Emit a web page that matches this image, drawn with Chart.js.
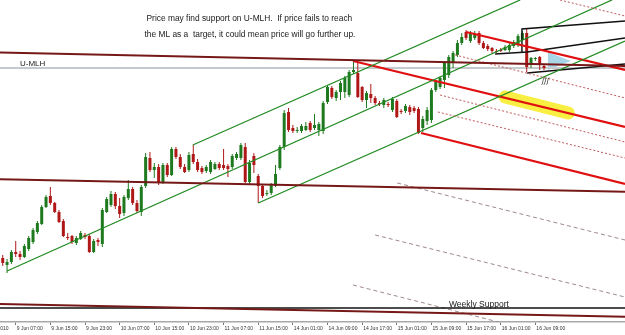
<!DOCTYPE html>
<html>
<head>
<meta charset="utf-8">
<script src="https://cdn.jsdelivr.net/npm/chart.js@4.4.1/dist/chart.umd.min.js"></script>
<style>
  html, body { margin: 0; padding: 0; background: #fff; }
  canvas { display: block; }
</style>
</head>
<body>
<canvas id="chart" width="625" height="335"></canvas>
<script>
// H1 candles, bar index 0 = 9 Jun 07:00
const FIRST_BAR = -3;
const OPEN = [1.2072,1.2065,1.2068,1.2078,1.2076,1.2073,1.2081,1.2088,1.2098,1.2106,
  1.2123,1.2134,1.2127,1.2118,1.2109,1.2093,1.2094,1.2087,1.2091,1.2095,
  1.2094,1.2078,1.2090,1.2086,1.2118,1.2125,1.2136,1.2124,1.2117,1.2132,
  1.2141,1.2127,1.2118,1.2144,1.2172,1.2160,1.2163,1.2148,1.2165,1.2155,
  1.2181,1.2173,1.2163,1.2160,1.2176,1.2168,1.2162,1.2159,1.2158,1.2161,
  1.2166,1.2165,1.2164,1.2163,1.2172,1.2172,1.2183,1.2148,1.2174,1.2154,
  1.2144,1.2136,1.2137,1.2144,1.2162,1.2183,1.2218,1.2202,1.2199,1.2199,
  1.2200,1.2207,1.2202,1.2200,1.2199,1.2228,1.2242,1.2232,1.2238,1.2238,
  1.2235,1.2258,1.2257,1.2243,1.2230,1.2236,1.2232,1.2227,1.2225,1.2226,
  1.2220,1.2229,1.2219,1.2219,1.2223,1.2222,1.2221,1.2202,1.2209,1.2210,
  1.2240,1.2243,1.2250,1.2255,1.2267,1.2275,1.2287,1.2298,1.2289,1.2292,
  1.2297,1.2287,1.2284,1.2282,1.2279,1.2280,1.2280,1.2280,1.2284,1.2285,
  1.2290,1.2297,1.2265,1.2271,1.2273,1.2264];
const HIGH = [1.2075,1.2071,1.2080,1.2089,1.2079,1.2086,1.2094,1.2102,1.2109,1.2125,
  1.2135,1.2143,1.2128,1.2120,1.2111,1.2097,1.2095,1.2094,1.2099,1.2097,
  1.2096,1.2091,1.2092,1.2122,1.2133,1.2139,1.2138,1.2132,1.2135,1.2150,
  1.2143,1.2130,1.2145,1.2177,1.2178,1.2167,1.2166,1.2167,1.2167,1.2183,
  1.2183,1.2176,1.2166,1.2178,1.2185,1.2171,1.2164,1.2165,1.2170,1.2168,
  1.2168,1.2181,1.2166,1.2176,1.2178,1.2187,1.2187,1.2170,1.2177,1.2156,
  1.2146,1.2140,1.2147,1.2165,1.2185,1.2220,1.2222,1.2205,1.2203,1.2206,
  1.2208,1.2209,1.2216,1.2208,1.2229,1.2245,1.2244,1.2240,1.2249,1.2254,
  1.2260,1.2268,1.2268,1.2244,1.2239,1.2246,1.2234,1.2229,1.2232,1.2228,
  1.2233,1.2231,1.2221,1.2226,1.2225,1.2224,1.2223,1.2214,1.2223,1.2242,
  1.2250,1.2254,1.2269,1.2275,1.2279,1.2290,1.2297,1.2300,1.2299,1.2299,
  1.2299,1.2289,1.2286,1.2283,1.2281,1.2282,1.2285,1.2287,1.2290,1.2296,
  1.2299,1.2302,1.2273,1.2273,1.2274,1.2266];
const LOW = [1.2064,1.2057,1.2066,1.2073,1.2070,1.2072,1.2079,1.2086,1.2096,1.2105,
  1.2122,1.2125,1.2117,1.2107,1.2093,1.2090,1.2086,1.2085,1.2090,1.2091,
  1.2077,1.2077,1.2084,1.2083,1.2117,1.2123,1.2121,1.2112,1.2114,1.2130,
  1.2125,1.2117,1.2114,1.2142,1.2158,1.2152,1.2145,1.2146,1.2153,1.2154,
  1.2171,1.2161,1.2157,1.2158,1.2166,1.2158,1.2156,1.2157,1.2156,1.2160,
  1.2160,1.2160,1.2153,1.2161,1.2170,1.2170,1.2147,1.2146,1.2157,1.2127,
  1.2132,1.2134,1.2135,1.2143,1.2160,1.2180,1.2198,1.2197,1.2197,1.2197,
  1.2199,1.2198,1.2200,1.2194,1.2196,1.2226,1.2231,1.2229,1.2230,1.2232,
  1.2233,1.2256,1.2232,1.2228,1.2222,1.2227,1.2225,1.2224,1.2222,1.2223,
  1.2218,1.2212,1.2216,1.2217,1.2215,1.2217,1.2196,1.2198,1.2205,1.2207,
  1.2238,1.2241,1.2242,1.2252,1.2262,1.2273,1.2285,1.2290,1.2287,1.2290,
  1.2285,1.2281,1.2279,1.2277,1.2277,1.2278,1.2279,1.2278,1.2282,1.2283,
  1.2289,1.2258,1.2262,1.2269,1.2260,1.2260];
const CLOSE = [1.2067,1.2068,1.2078,1.2076,1.2073,1.2084,1.2092,1.2100,1.2107,1.2123,
  1.2133,1.2127,1.2118,1.2108,1.2094,1.2092,1.2088,1.2092,1.2097,1.2093,
  1.2078,1.2089,1.2088,1.2120,1.2131,1.2136,1.2124,1.2116,1.2133,1.2141,
  1.2127,1.2119,1.2143,1.2173,1.2160,1.2163,1.2148,1.2165,1.2155,1.2181,
  1.2173,1.2163,1.2158,1.2175,1.2168,1.2160,1.2158,1.2163,1.2168,1.2166,
  1.2162,1.2162,1.2161,1.2174,1.2176,1.2185,1.2148,1.2167,1.2165,1.2144,
  1.2134,1.2137,1.2145,1.2156,1.2183,1.2217,1.2200,1.2199,1.2200,1.2204,
  1.2204,1.2200,1.2205,1.2206,1.2227,1.2243,1.2233,1.2238,1.2247,1.2252,
  1.2258,1.2260,1.2233,1.2230,1.2237,1.2232,1.2227,1.2226,1.2230,1.2225,
  1.2231,1.2213,1.2218,1.2224,1.2218,1.2219,1.2197,1.2211,1.2220,1.2240,
  1.2248,1.2252,1.2267,1.2273,1.2277,1.2287,1.2293,1.2292,1.2297,1.2296,
  1.2287,1.2282,1.2281,1.2279,1.2278,1.2279,1.2283,1.2285,1.2288,1.2294,
  1.2297,1.2263,1.2272,1.2272,1.2265,1.2262];

const TICK_BARS = [0, 8, 16, 24, 32, 40, 48, 56, 64, 72, 80, 88, 96, 104, 112, 120];
const TICK_LABELS = ['9 Jun 07:00', '9 Jun 15:00', '9 Jun 23:00', '10 Jun 07:00', '10 Jun 15:00',
  '10 Jun 23:00', '11 Jun 07:00', '11 Jun 15:00', '14 Jun 01:00', '14 Jun 09:00', '14 Jun 17:00',
  '15 Jun 01:00', '15 Jun 09:00', '15 Jun 17:00', '16 Jun 01:00', '16 Jun 09:00'];
const FIRST_DATE = '9 Jun 2010';

// chart objects as [bar index, price] points
const MAROON_LINES = [
  [[-3.63, 1.22775], [140.7, 1.2264]],
  [[-3.63, 1.21507], [140.7, 1.21383]],
  [[-3.63, 1.2026], [140.7, 1.20133]]
];
const BID_LINE = [[-3.63, 1.2262], [140.7, 1.2262]];
const WEEKLY_SUPPORT = [[-3.63, 1.2022], [140.7, 1.2022]];
const GREEN_LINES = [
  [[-2.0, 1.2059], [137.7, 1.2330]],
  [[40.9, 1.2185], [116.5, 1.2330]],
  [[56.0, 1.2127], [140.7, 1.2289]]
];
const RED_LINES = [
  [[77.9, 1.2269], [140.7, 1.2203]],
  [[104.0, 1.2298], [140.7, 1.2260]],
  [[93.6, 1.2197], [140.7, 1.2146]]
];
const RED_DOTTED = [
  [[125.7, 1.2330], [140.7, 1.2314]],
  [[101.5, 1.2275], [140.7, 1.2232]],
  [[98.0, 1.2235], [140.7, 1.2188]],
  [[97.5, 1.2218], [140.7, 1.2172]]
];
const GRAY_DASHED = [
  [[88.1, 1.2147], [140.7, 1.2090]],
  [[83.0, 1.2095], [140.7, 1.2033]],
  [[77.9, 1.2045], [114.2, 1.2005]]
];
const BLACK_LINES = [
  [[140.7, 1.2309], [116.9, 1.2301], [116.9, 1.2278]],
  [[110.7, 1.2276], [118.1, 1.2278], [140.7, 1.2292]],
  [[118.1, 1.2257], [140.7, 1.2266]]
];
const BLUE_TRIANGLE = [[122.9, 1.2278], [128.2, 1.2269], [122.9, 1.2260]];
const YELLOW_MARK = [[113.0, 1.2233], [127.6, 1.2217]];

const NOTE_LINES = ['Price may find support on U-MLH.  If price fails to reach',
  'the ML as a  target, it could mean price will go further up.'];

const X_MIN = -3.63, X_MAX = 140.7, Y_MIN = 1.2008, Y_MAX = 1.2330;
const FONT = '"Liberation Sans", Arial, sans-serif';
const UP = '#1f7a1f', DOWN = '#b01818';

const up = OPEN.map((o, k) => CLOSE[k] >= o);
const candleColors = up.map(u => u ? UP : DOWN);

function lineSet(points, color, width, dash, order, extra) {
  return Object.assign({
    type: 'line',
    data: points.map(([x, y]) => ({ x, y })),
    borderColor: color, borderWidth: width, borderDash: dash || [],
    pointRadius: 0, tension: 0, fill: false, order
  }, extra || {});
}

const datasets = [
  {
    type: 'bar', order: 1, grouped: false, barThickness: 1, inflateAmount: 0,
    data: OPEN.map((o, k) => ({ x: FIRST_BAR + k, y: [LOW[k], HIGH[k]] })),
    backgroundColor: candleColors
  },
  {
    type: 'bar', order: 1, grouped: false, barThickness: 3, inflateAmount: 0, minBarLength: 1,
    data: OPEN.map((o, k) => ({ x: FIRST_BAR + k, y: [o, CLOSE[k]] })),
    backgroundColor: candleColors
  },
  lineSet(YELLOW_MARK, 'rgba(248,236,45,0.9)', 13, null, 4, { borderCapStyle: 'round' }),
  lineSet(BLUE_TRIANGLE, 'rgba(0,0,0,0)', 0, null, 3, { fill: 'shape', backgroundColor: 'rgba(160,210,228,0.9)' }),
  lineSet(BID_LINE, '#c6cacd', 2, null, 2),
  ...MAROON_LINES.map(p => lineSet(p, '#761818', 2, null, 0)),
  lineSet(WEEKLY_SUPPORT, '#111111', 1.3, null, 0),
  ...GRAY_DASHED.map(p => lineSet(p, '#a08a8a', 1, [4, 3], 0)),
  ...RED_DOTTED.map(p => lineSet(p, '#c25a5a', 1, [2, 2], 0)),
  ...GREEN_LINES.map(p => lineSet(p, '#228b22', 1.3, null, 0)),
  ...RED_LINES.map(p => lineSet(p, '#e01010', 2.2, null, 0)),
  ...BLACK_LINES.map(p => lineSet(p, '#111111', 1.4, null, 0))
];

const annotations = {
  id: 'annotations',
  beforeDraw(chart) {
    const ctx = chart.ctx;
    ctx.save();
    ctx.fillStyle = '#ffffff';
    ctx.fillRect(0, 0, chart.width, chart.height);
    ctx.restore();
  },
  afterDraw(chart) {
    const ctx = chart.ctx;
    ctx.save();
    ctx.fillStyle = '#1a1a1a';
    ctx.textBaseline = 'alphabetic';
    ctx.font = '8.4px ' + FONT;
    ctx.fillText(NOTE_LINES[0], 146.5, 20.5);
    ctx.fillText(NOTE_LINES[1], 144.5, 36.5);
    ctx.font = '8px ' + FONT;
    ctx.fillText('U-MLH', 20, 66);
    ctx.font = '8.5px ' + FONT;
    ctx.fillText('Weekly Support', 449, 306.5);
    ctx.font = 'italic 7px "DejaVu Sans", sans-serif';
    ctx.fillText('\u0283\u0283\u0283', 542, 83);
    ctx.fillStyle = '#333';
    ctx.font = '5px ' + FONT;
    ctx.textBaseline = 'top';
    ctx.textAlign = 'right';
    ctx.fillText(FIRST_DATE, 8.5, 326.5);
    ctx.restore();
  }
};

new Chart(document.getElementById('chart'), {
  type: 'bar',
  data: { datasets },
  options: {
    responsive: false, animation: false,
    layout: { padding: 0 },
    plugins: { legend: { display: false }, tooltip: { enabled: false } },
    scales: {
      x: {
        type: 'linear', min: X_MIN, max: X_MAX, offset: false,
        afterBuildTicks: s => { s.ticks = TICK_BARS.map(v => ({ value: v })); },
        afterFit: s => { s.height = 13; },
        ticks: {
          autoSkip: false, maxRotation: 0, minRotation: 0, align: 'start', labelOffset: 1, padding: 1,
          color: '#333', font: { size: 5, family: FONT },
          callback: (v, i) => TICK_LABELS[i]
        },
        grid: { drawOnChartArea: false, drawTicks: true, tickLength: 3, color: '#777', offset: false },
        border: { display: true, color: '#a8a8a8', width: 1.5 }
      },
      y: { type: 'linear', display: false, min: Y_MIN, max: Y_MAX }
    }
  },
  plugins: [annotations]
});
</script>
</body>
</html>
